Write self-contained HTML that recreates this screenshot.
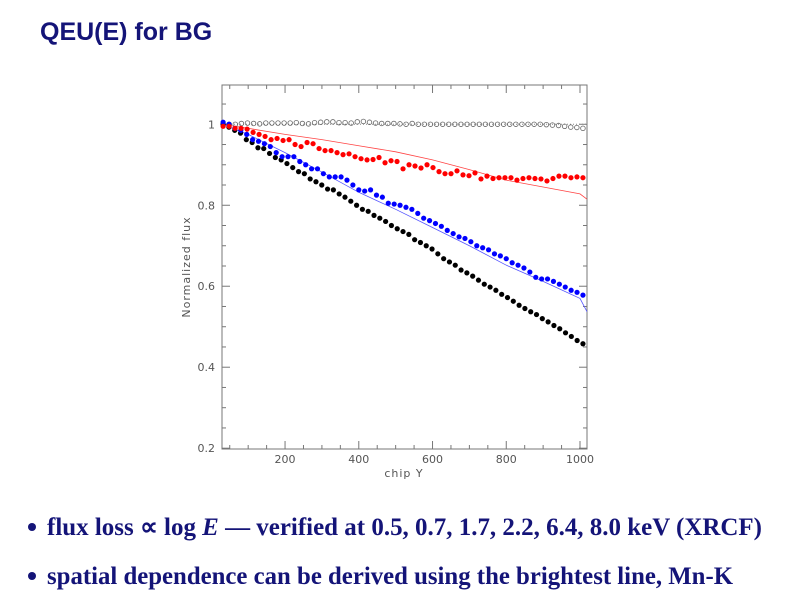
<!DOCTYPE html>
<html><head><meta charset="utf-8"><style>
body{margin:0;background:#fff;width:792px;height:612px;overflow:hidden}
svg{display:block}
</style></head><body>
<svg id="chart" width="792" height="612" xmlns="http://www.w3.org/2000/svg">
<text x="40" y="40" font-family="Liberation Sans, sans-serif" font-weight="bold" font-size="25" fill="#141478">QEU(E) for BG</text>
<g id="plot"></g>
<g font-family="Liberation Serif, serif" font-weight="bold" fill="#141478">
<circle cx="32" cy="527" r="4" fill="#141478"/>
<text x="47" y="535" font-size="25" textLength="715" lengthAdjust="spacingAndGlyphs">flux loss ∝ log <tspan font-style="italic">E</tspan>  — verified at 0.5, 0.7, 1.7, 2.2, 6.4, 8.0 keV (XRCF)</text>
<circle cx="32" cy="576" r="4" fill="#141478"/>
<text x="47" y="584" font-size="25" textLength="686" lengthAdjust="spacingAndGlyphs">spatial dependence can be derived using the brightest line, Mn-K</text>
</g>
</svg>
<script>
const xTicks=[200,400,600,800,1000];
const yTicks=[0.2,0.4,0.6,0.8,1];
const blackVals=[1.0,0.993,0.985,0.978,0.962,0.955,0.942,0.94,0.928,0.918,0.912,0.903,0.893,0.883,0.878,0.865,0.858,0.85,0.84,0.838,0.828,0.82,0.81,0.8,0.79,0.785,0.775,0.768,0.76,0.75,0.742,0.735,0.728,0.715,0.708,0.7,0.692,0.68,0.668,0.66,0.652,0.64,0.633,0.625,0.615,0.605,0.598,0.59,0.58,0.572,0.563,0.553,0.545,0.537,0.53,0.52,0.512,0.503,0.495,0.485,0.476,0.466,0.458];
const blueVals=[1.005,1.0,0.99,0.985,0.975,0.962,0.958,0.952,0.945,0.93,0.92,0.92,0.92,0.908,0.9,0.89,0.89,0.878,0.87,0.87,0.87,0.862,0.85,0.838,0.835,0.838,0.825,0.82,0.805,0.803,0.8,0.795,0.79,0.78,0.768,0.762,0.755,0.748,0.738,0.73,0.722,0.718,0.71,0.7,0.695,0.69,0.68,0.675,0.668,0.658,0.652,0.645,0.635,0.622,0.618,0.618,0.612,0.605,0.598,0.59,0.585,0.578];
const redVals=[0.995,0.995,0.99,0.99,0.988,0.98,0.975,0.97,0.962,0.965,0.96,0.962,0.95,0.945,0.955,0.952,0.94,0.935,0.935,0.93,0.925,0.927,0.92,0.915,0.912,0.913,0.918,0.905,0.91,0.908,0.89,0.9,0.897,0.892,0.9,0.893,0.883,0.878,0.878,0.885,0.875,0.873,0.88,0.865,0.872,0.866,0.868,0.868,0.868,0.862,0.866,0.868,0.866,0.865,0.86,0.866,0.872,0.872,0.868,0.87,0.868];
const openVals=[1.0,1.0,1.0,1.002,1.003,1.002,1.001,1.003,1.003,1.003,1.003,1.003,1.004,1.002,1.001,1.004,1.005,1.006,1.006,1.004,1.004,1.003,1.006,1.007,1.005,1.003,1.002,1.002,1.002,1.001,1.0,1.002,1.0,1.0,1.0,1.0,1.0,1.0,1.0,1.0,1.0,1.0,1.0,1.0,1.0,1.0,1.0,1.0,1.0,1.0,1.0,1.0,1.0,0.999,0.998,0.997,0.995,0.993,0.992,0.99];
const lineX=[29,100,200,300,400,500,600,700,800,900,1000,1019];
const redLine=[1.0,0.99,0.975,0.962,0.947,0.932,0.912,0.888,0.862,0.845,0.828,0.815];
const blueLine=[1.0,0.975,0.93,0.882,0.832,0.79,0.745,0.7,0.652,0.612,0.57,0.537];
const X0=222,X1=587,Y0=85,Y1=449,DX0=29,DX1=1019,DY0=0.198,DY1=1.097;
const sx=v=>X0+(v-DX0)/(DX1-DX0)*(X1-X0);
const sy=v=>Y1-(v-DY0)/(DY1-DY0)*(Y1-Y0);
const NS='http://www.w3.org/2000/svg';
const g=document.getElementById('plot');
function mk(t,a){const e=document.createElementNS(NS,t);for(const k in a)e.setAttribute(k,a[k]);g.appendChild(e);return e;}
const fr=mk('rect',{x:X0,y:Y0,width:X1-X0,height:Y1-Y0,fill:'none',stroke:'#777','stroke-width':1});


for(let v=50;v<=1000;v+=50){const big=v%200===0;const L=big?8:4;
 const t1=mk('line',{x1:sx(v),x2:sx(v),y1:Y1,y2:Y1-L,stroke:'#777'});
 
 
 const t2=mk('line',{x1:sx(v),x2:sx(v),y1:Y0,y2:Y0+L,stroke:'#777'});
 
 }
for(let i=4;i<=21;i++){const v=i*0.05;const big=i%4===0;const L=big?8:4;if(sy(v)<Y0)continue;
 const t1=mk('line',{x1:X0,x2:X0+L,y1:sy(v),y2:sy(v),stroke:'#777'});
 
 
 const t2=mk('line',{x1:X1,x2:X1-L,y1:sy(v),y2:sy(v),stroke:'#777'});
 
 }
xTicks.forEach(v=>{const t=mk('text',{x:sx(v),y:Y1+14,'text-anchor':'middle','font-family':'DejaVu Sans, sans-serif','font-size':11,fill:'#555'});t.textContent=v;
 
 });
yTicks.forEach(v=>{const t=mk('text',{x:X0-7,y:sy(v)+4,'text-anchor':'end','font-family':'DejaVu Sans, sans-serif','font-size':11,fill:'#555'});t.textContent=v;
 
 });
const xt=mk('text',{x:404,y:477,'text-anchor':'middle','font-family':'DejaVu Sans, sans-serif','font-size':11,fill:'#555','letter-spacing':1});xt.textContent='chip Y';


const yt=mk('text',{x:0,y:0,transform:'translate(190,267) rotate(-90)','text-anchor':'middle','font-family':'DejaVu Sans, sans-serif','font-size':11,fill:'#555','letter-spacing':1});yt.textContent='Normalized flux';


const ref=mk('line',{x1:X0,x2:X1,y1:sy(1),y2:sy(1),stroke:'#888','stroke-dasharray':'1,2'});


function line(vals,col,name){const p=mk('polyline',{points:lineX.map((x,i)=>sx(x)+','+sy(vals[i])).join(' '),fill:'none',stroke:col,'stroke-width':0.8});
 
 }
line(redLine,'#f44','red-model-line');
line(blueLine,'#55f','blue-model-line');
function pts(vals,col,name,open){const n=vals.length;vals.forEach((v,i)=>{const x=32+i*(976/(n-1));
 const c=mk('circle',{cx:sx(x),cy:sy(v),r:open?2.3:2.6,fill:open?'none':col,stroke:open?'#666':'none','stroke-width':0.8});
 
 });}
pts(openVals,'#666','open-point',true);
pts(blackVals,'#000','black-point',false);
pts(blueVals,'#0000ff','blue-point',false);
pts(redVals,'#ff0000','red-point',false);
</script>
</body></html>
